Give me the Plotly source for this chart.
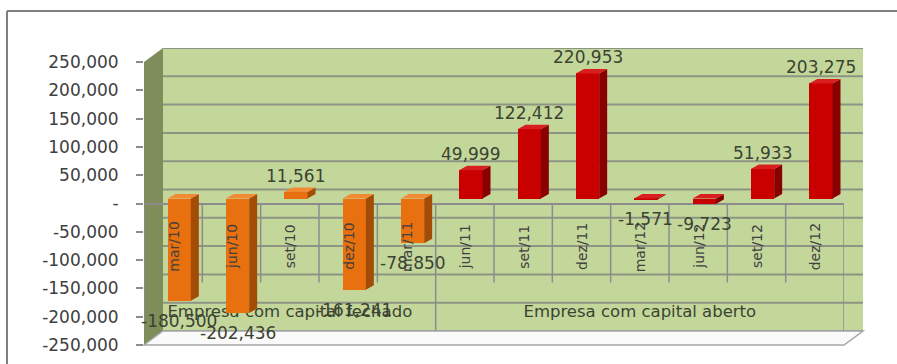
import plotly.graph_objects as go

# ---- data -------------------------------------------------------------
categories = ["mar/10", "jun/10", "set/10", "dez/10", "mar/11",
              "jun/11", "set/11", "dez/11", "mar/12", "jun/12", "set/12", "dez/12"]
group_names = ["Empresa com capital fechado", "Empresa com capital aberto"]
group_sizes = [5, 7]
values = [-180500, -202436, 11561, -161241, -78850,
          49999, 122412, 220953, -1571, -9723, 51933, 203275]
tick_values = [250000, 200000, 150000, 100000, 50000, 0,
               -50000, -100000, -150000, -200000, -250000]
tick_labels = ["250,000", "200,000", "150,000", "100,000", "50,000", "-",
               "-50,000", "-100,000", "-150,000", "-200,000", "-250,000"]

# ---- geometry (pixels) ------------------------------------------------
W, H = 897, 364
FRONT_L, FRONT_R, FRONT_T, FRONT_B = 144, 844, 62, 345
BAR_SHIFT = (6, -5)      # plane the bars stand in
WALL_SHIFT = (19, -14)   # back wall
Y_RANGE = [-250000, 250000]
X_RANGE = [-0.5, len(categories) - 0.5]


def fx(px):
    return px / W


def fy(py):
    return 1 - py / H


def plane(dx, dy):
    return ([fx(FRONT_L + dx), fx(FRONT_R + dx)],
            [fy(FRONT_B + dy), fy(FRONT_T + dy)])


front_xd, front_yd = plane(0, 0)
bar_xd, bar_yd = plane(*BAR_SHIFT)
wall_xd, wall_yd = plane(*WALL_SHIFT)

# colours per group
FRONT_COL = ["#E8700E", "#C80000"]
SIDE_COL = ["#A34C06", "#880000"]
TOP_COL = ["#F28A34", "#D81E1E"]
TEXT_COL = "#3b4332"
GRID_COL = "#8E9483"
FONT = "DejaVu Sans"

group_of = []
for g, n in enumerate(group_sizes):
    group_of += [g] * n

xs = list(range(len(categories)))
BAR_W = 0.40

# depth of the 3-D faces expressed in axis units
cat_px = (FRONT_R - FRONT_L) / len(categories)
y_per_px = (Y_RANGE[1] - Y_RANGE[0]) / (FRONT_B - FRONT_T)
DX = 8 / cat_px
DY = 4.5 * y_per_px

fig = go.Figure()

# empty traces so that every plane exists as a subplot
fig.add_trace(go.Scatter(x=[], y=[], xaxis="x", yaxis="y", hoverinfo="skip"))
fig.add_trace(go.Scatter(x=[], y=[], xaxis="x2", yaxis="y2", hoverinfo="skip"))

# front faces of the bars
fig.add_trace(go.Bar(
    x=xs, y=values, width=BAR_W,
    marker=dict(color=[FRONT_COL[g] for g in group_of], line=dict(width=0)),
    xaxis="x3", yaxis="y3", hoverinfo="skip",
))

# side and top faces as parallelograms derived from the values
for g in range(len(group_sizes)):
    sx, sy, tx, ty = [], [], [], []
    for i, v in enumerate(values):
        if group_of[i] != g:
            continue
        lo, hi = min(0, v), max(0, v)
        xl, xr = i - BAR_W / 2, i + BAR_W / 2
        sx += [xr, xr + DX, xr + DX, xr, xr, None]
        sy += [lo, lo + DY, hi + DY, hi, lo, None]
        tx += [xl, xl + DX, xr + DX, xr, xl, None]
        ty += [hi, hi + DY, hi + DY, hi, hi, None]
    fig.add_trace(go.Scatter(x=sx, y=sy, fill="toself", mode="lines",
                             line=dict(width=0), fillcolor=SIDE_COL[g],
                             xaxis="x3", yaxis="y3", hoverinfo="skip"))
    fig.add_trace(go.Scatter(x=tx, y=ty, fill="toself", mode="lines",
                             line=dict(width=0), fillcolor=TOP_COL[g],
                             xaxis="x3", yaxis="y3", hoverinfo="skip"))

shapes = []
# back wall
shapes.append(dict(type="rect", xref="x2 domain", yref="y2 domain",
                   x0=0, x1=1, y0=0, y1=1, fillcolor="#C4D79B",
                   line=dict(width=0), layer="below"))
# gridlines on the back wall
for t in tick_values:
    shapes.append(dict(type="line", xref="x2 domain", yref="y2",
                       x0=0, x1=1, y0=t, y1=t,
                       line=dict(color=GRID_COL, width=2), layer="below"))
# left side wall
bx, by = WALL_SHIFT
shapes.append(dict(
    type="path", xref="paper", yref="paper", layer="below",
    path=(f"M{fx(FRONT_L)},{fy(FRONT_T)} L{fx(FRONT_L + bx)},{fy(FRONT_T + by)} "
          f"L{fx(FRONT_L + bx)},{fy(FRONT_B + by)} L{fx(FRONT_L)},{fy(FRONT_B)} Z"),
    fillcolor="#7E8D5A", line=dict(width=0)))
# floor
shapes.append(dict(
    type="path", xref="paper", yref="paper", layer="below",
    path=(f"M{fx(FRONT_L)},{fy(FRONT_B)} L{fx(FRONT_L + bx)},{fy(FRONT_B + by)} "
          f"L{fx(FRONT_R + bx)},{fy(FRONT_B + by)} L{fx(FRONT_R)},{fy(FRONT_B)} Z"),
    fillcolor="#FAFAFA", line=dict(color="#A6A6A6", width=1.5)))

# category dividers hanging below the zero line
bounds = [0]
for n in group_sizes:
    bounds.append(bounds[-1] + n)
group_edges = set(b - 0.5 for b in bounds)
for k in range(len(categories) + 1):
    xb = k - 0.5
    depth = -127 if xb in group_edges else -79
    shapes.append(dict(type="line", xref="x", yref="y", ysizemode="pixel",
                       yanchor=0, x0=xb, x1=xb, y0=0, y1=depth,
                       line=dict(color="#8C8C8C", width=1.5), layer="below"))

# group captions, kept behind the bars
CAPTION_Y = 310
for g, name in enumerate(group_names):
    shapes.append(dict(
        type="line", xref="x", yref="paper",
        x0=bounds[g] - 0.5, x1=bounds[g + 1] - 0.5,
        y0=fy(CAPTION_Y), y1=fy(CAPTION_Y),
        line=dict(color="rgba(0,0,0,0)", width=0), layer="below",
        label=dict(text=name, textposition="middle", yanchor="middle",
                   font=dict(family=FONT, size=16.5, color=TEXT_COL))))

# outer frame
shapes.append(dict(type="line", xref="paper", yref="paper",
                   x0=fx(7), x1=1, y0=fy(11), y1=fy(11),
                   line=dict(color="#808080", width=2)))
shapes.append(dict(type="line", xref="paper", yref="paper",
                   x0=fx(7), x1=fx(7), y0=fy(11), y1=0,
                   line=dict(color="#808080", width=2)))

annotations = []
# rotated category labels
for i, c in enumerate(categories):
    annotations.append(dict(x=i, y=0, xref="x", yref="y", text=c,
                            showarrow=False, textangle=-90,
                            yanchor="middle", xanchor="center", yshift=-43,
                            font=dict(family=FONT, size=14, color="#404040")))
# value labels
for i, v in enumerate(values):
    annotations.append(dict(x=i, y=v, xref="x3", yref="y3", text=f"{v:,}",
                            showarrow=False, yanchor="middle", xanchor="center",
                            yshift=16 if v >= 0 else -20,
                            font=dict(family=FONT, size=17, color=TEXT_COL)))

hidden = dict(visible=False, automargin=False)

fig.update_layout(
    template="none",
    width=W, height=H,
    margin=dict(l=0, r=0, t=0, b=0),
    paper_bgcolor="white",
    plot_bgcolor="rgba(0,0,0,0)",
    showlegend=False,
    xaxis=dict(domain=front_xd, range=X_RANGE, anchor="y", **hidden),
    yaxis=dict(domain=front_yd, range=Y_RANGE, anchor="x", automargin=False,
               tickmode="array", tickvals=tick_values, ticktext=tick_labels,
               ticks="outside", ticklen=7, tickwidth=1.5, tickcolor="#8C8C8C",
               ticklabelstandoff=14,
               tickfont=dict(family=FONT, size=17, color="#404040"),
               showgrid=False, showline=False,
               zeroline=True, zerolinecolor="#8C8C8C", zerolinewidth=1.5),
    xaxis2=dict(domain=wall_xd, range=X_RANGE, anchor="y2", **hidden),
    yaxis2=dict(domain=wall_yd, range=Y_RANGE, anchor="x2", **hidden),
    xaxis3=dict(domain=bar_xd, range=X_RANGE, anchor="y3", **hidden),
    yaxis3=dict(domain=bar_yd, range=Y_RANGE, anchor="x3", **hidden),
    bargap=0,
    shapes=shapes,
    annotations=annotations,
)

fig.write_html("out.html")
